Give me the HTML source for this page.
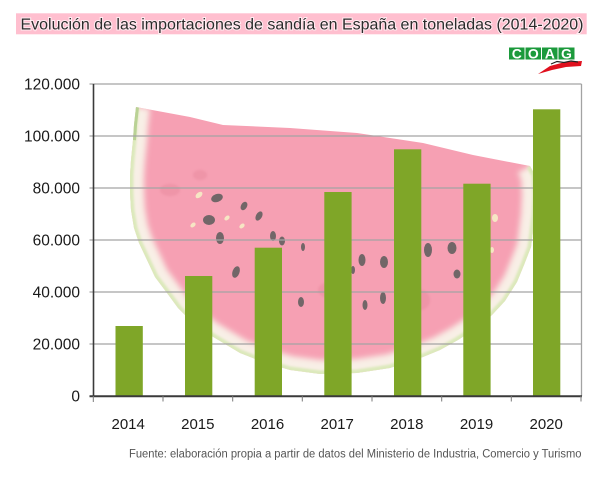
<!DOCTYPE html>
<html><head><meta charset="utf-8"><style>
html,body{margin:0;padding:0;background:#fff;}
svg{display:block;}
text{font-family:"Liberation Sans",Arial,sans-serif;}
</style></head><body>
<svg width="600" height="478" viewBox="0 0 600 478" xmlns="http://www.w3.org/2000/svg">
<defs>
<clipPath id="wm"><path id="wmp" d="M136,107 L190,117 L223,125 L290,128 L357,133 L423,143 L473,155 L530,166 L535,175 L536,195 L535,215 L531,247 L524,265 L517,282 L505,301 L492,315 L475,329 L458,340 L440,350 L423,357 L390,368 L357,373 L320,374 L290,370 L263,362 L240,353 L210,335 L190,320 L178,308 L167,293 L155,277 L147,260 L139,243 L134,228 L131,210 L130,193 L130,175 L131,160 L133,140 L134,125 Z"/></clipPath>
<filter id="bl" x="-10%" y="-10%" width="120%" height="120%"><feGaussianBlur stdDeviation="3"/></filter>
<filter id="bl1" x="-10%" y="-10%" width="120%" height="120%"><feGaussianBlur stdDeviation="1"/></filter>
</defs>

<!-- Title -->
<rect x="16" y="13.3" width="570.7" height="21" fill="#ffbfcf"/>
<text x="20.5" y="29.3" font-size="16" fill="#2b2b2b" stroke="#ffffff" stroke-width="2" stroke-opacity="0.7" paint-order="stroke" textLength="563" lengthAdjust="spacingAndGlyphs">Evolución de las importaciones de sandía en España en toneladas (2014-2020)</text>

<!-- Logo -->
<g font-weight="bold" font-size="14" fill="#fff" text-anchor="middle">
<rect x="509" y="47.5" width="15.5" height="12" fill="#1c9a3c"/>
<rect x="525.5" y="47.5" width="15.5" height="12" fill="#1c9a3c"/>
<rect x="542" y="47.5" width="15.5" height="12" fill="#1c9a3c"/>
<rect x="558.5" y="47.5" width="16" height="12" fill="#1c9a3c"/>
<text x="516.8" y="58.3">C</text><text x="533.3" y="58.3">O</text><text x="549.8" y="58.3">A</text><text x="566.5" y="58.3">G</text>
</g>
<path d="M538,74 L550,66 L565,62 L582,61 L581,66 L566,67 L552,70 Z" fill="#e0101e"/>
<path d="M551,64 L557,61.5 L564,62.5 L571,61 L578,62" stroke="#222" stroke-width="1.2" fill="none"/>

<!-- Watermelon background -->
<g>
<use href="#wmp" fill="#f6a0b3"/>
<g clip-path="url(#wm)">
<path d="M530,166 L535,175 L536,195 L535,215 L531,247 L524,265 L517,282 L505,301 L492,315 L475,329 L458,340 L440,350 L423,357 L390,368 L357,373 L320,374 L290,370 L263,362 L240,353 L210,335 L190,320 L178,308 L167,293 L155,277 L147,260 L139,243 L134,228 L131,210 L130,193 L130,175 L131,160 L133,140 L134,125 L136,107" stroke="#f8efe6" stroke-width="28" fill="none" stroke-linejoin="round" filter="url(#bl)"/>
<path d="M530,166 L535,175 L536,195 L535,215 L531,247 L524,265 L517,282 L505,301 L492,315 L475,329 L458,340 L440,350 L423,357 L390,368 L357,373 L320,374 L290,370 L263,362 L240,353 L210,335 L190,320 L178,308 L167,293 L155,277 L147,260 L139,243 L134,228 L131,210 L130,193 L130,175 L131,160 L133,140 L134,125 L136,107" stroke="#dce9bb" stroke-width="7" fill="none" stroke-linejoin="round" filter="url(#bl1)"/>
<path d="M136,107 L134,125 L133,140" stroke="#b9d295" stroke-width="6" fill="none"/>
<g filter="url(#bl1)" opacity="0.5" fill="#e88a9e">
<ellipse cx="170" cy="190" rx="10" ry="6"/><ellipse cx="200" cy="175" rx="7" ry="5"/><ellipse cx="330" cy="290" rx="12" ry="8"/><ellipse cx="420" cy="300" rx="10" ry="10"/>
</g>
</g>
<!-- seeds -->
<g fill="#5c5c5c" opacity="0.85">
<ellipse cx="217" cy="198" rx="6" ry="4" transform="rotate(-20 217 198)"/>
<ellipse cx="244" cy="206" rx="3" ry="4.5" transform="rotate(30 244 206)"/>
<ellipse cx="209" cy="220" rx="6" ry="5"/>
<ellipse cx="259" cy="216" rx="3" ry="5" transform="rotate(30 259 216)"/>
<ellipse cx="220" cy="238" rx="4" ry="6"/>
<ellipse cx="273" cy="236" rx="3" ry="5"/>
<ellipse cx="282" cy="241" rx="3" ry="4.5"/>
<ellipse cx="303" cy="247" rx="2" ry="4"/>
<ellipse cx="236" cy="272" rx="3.5" ry="6" transform="rotate(20 236 272)"/>
<ellipse cx="301" cy="302" rx="3" ry="5"/>
<ellipse cx="362" cy="260" rx="3.5" ry="6"/>
<ellipse cx="384" cy="262" rx="4" ry="6"/>
<ellipse cx="428" cy="250" rx="4" ry="7"/>
<ellipse cx="452" cy="248" rx="4.5" ry="6"/>
<ellipse cx="457" cy="274" rx="3.5" ry="4.5"/>
<ellipse cx="383" cy="298" rx="3" ry="6"/>
<ellipse cx="365" cy="305" rx="2.5" ry="5"/>
<ellipse cx="353" cy="270" rx="2" ry="4"/>
</g>
<g fill="#f6e6c4">
<ellipse cx="199" cy="195" rx="4" ry="2.5" transform="rotate(-40 199 195)"/>
<ellipse cx="193" cy="225" rx="3" ry="2" transform="rotate(-40 193 225)"/>
<ellipse cx="242" cy="226" rx="3" ry="2" transform="rotate(-40 242 226)"/>
<ellipse cx="227" cy="218" rx="3" ry="2" transform="rotate(-40 227 218)"/>
<ellipse cx="495" cy="218" rx="3" ry="4"/>
<ellipse cx="492" cy="250" rx="2" ry="3"/>
</g>
</g>

<!-- Gridlines -->
<g stroke="#a3a3a3" stroke-width="1.3">
<line x1="89.5" y1="84" x2="581.5" y2="84"/>
<line x1="89.5" y1="136" x2="581.5" y2="136"/>
<line x1="89.5" y1="188" x2="581.5" y2="188"/>
<line x1="89.5" y1="240" x2="581.5" y2="240"/>
<line x1="89.5" y1="292" x2="581.5" y2="292"/>
<line x1="89.5" y1="344" x2="581.5" y2="344"/>
<line x1="581.5" y1="84" x2="581.5" y2="396"/>
</g>

<!-- Bars -->
<g fill="#7fa628">
<rect x="115.5" y="326" width="27.3" height="70"/>
<rect x="185" y="276" width="27.3" height="120"/>
<rect x="254.7" y="247.7" width="27.3" height="148.3"/>
<rect x="324.3" y="192" width="27.3" height="204"/>
<rect x="394" y="149.3" width="27.3" height="246.7"/>
<rect x="463.3" y="183.7" width="27.3" height="212.3"/>
<rect x="533" y="109.3" width="27.3" height="286.7"/>
</g>

<!-- Axes -->
<line x1="93.5" y1="84" x2="93.5" y2="397" stroke="#3a3a3a" stroke-width="1.6"/>
<line x1="89.5" y1="396.3" x2="582" y2="396.3" stroke="#3a3a3a" stroke-width="2"/>
<g stroke="#7a7a7a" stroke-width="1">
<line x1="93.3" y1="396" x2="93.3" y2="402"/>
<line x1="163" y1="396" x2="163" y2="401.5"/>
<line x1="232.7" y1="396" x2="232.7" y2="401.5"/>
<line x1="302.3" y1="396" x2="302.3" y2="401.5"/>
<line x1="372" y1="396" x2="372" y2="401.5"/>
<line x1="441.7" y1="396" x2="441.7" y2="401.5"/>
<line x1="511.3" y1="396" x2="511.3" y2="401.5"/>
<line x1="581" y1="396" x2="581" y2="401.5"/>
</g>

<!-- Y labels -->
<g font-size="15.5" fill="#1a1a1a" text-anchor="end">
<text x="80" y="89.5">120.000</text>
<text x="80" y="141.5">100.000</text>
<text x="80" y="193.5">80.000</text>
<text x="80" y="245.5">60.000</text>
<text x="80" y="297.5">40.000</text>
<text x="80" y="349.5">20.000</text>
<text x="80" y="401.5">0</text>
</g>

<!-- X labels -->
<g font-size="15" fill="#1a1a1a" text-anchor="middle">
<text x="128.2" y="429">2014</text>
<text x="197.8" y="429">2015</text>
<text x="267.5" y="429">2016</text>
<text x="337.2" y="429">2017</text>
<text x="406.8" y="429">2018</text>
<text x="476.5" y="429">2019</text>
<text x="546.2" y="429">2020</text>
</g>

<!-- Source -->
<text x="129" y="457.5" font-size="11.5" fill="#555" textLength="452.5" lengthAdjust="spacingAndGlyphs">Fuente: elaboración propia a partir de datos del Ministerio de Industria, Comercio y Turismo</text>
</svg>
</body></html>
